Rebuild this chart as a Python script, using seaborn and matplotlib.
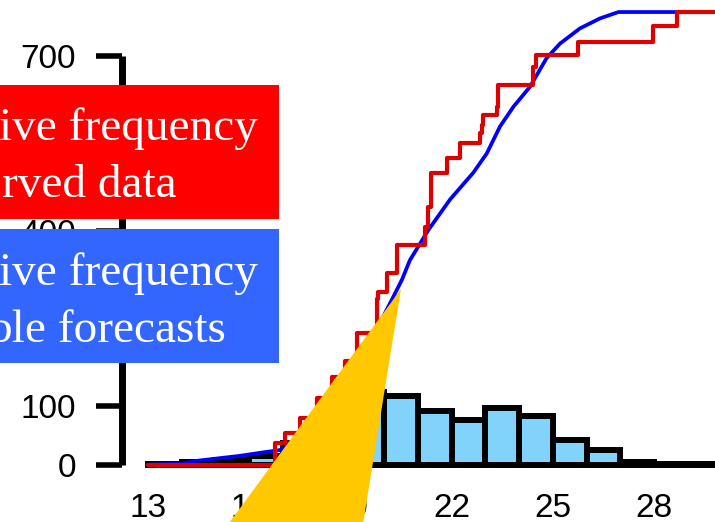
import numpy as np
import pandas as pd
import seaborn as sns
import matplotlib
matplotlib.use("Agg")
import matplotlib.pyplot as plt
from matplotlib.patches import Polygon, Rectangle

# Daily counts of ensemble forecasts, one bin per day [day, day + 1)
bin_days = list(range(13, 30))
bin_counts = [1, 4, 8, 15, 37, 62, 125, 118, 92, 77, 97, 84, 43, 26, 5, 2, 1]

# Cumulative frequency of ensemble forecasts
ens_day = [13.0, 14.0, 14.5, 15.7, 16.4, 16.9, 17.5, 18.0, 18.5, 19.0, 19.5, 20.0,
           20.17, 20.52, 20.76, 21.31, 21.95, 22.64, 23.04, 23.43, 23.83, 24.32,
           24.81, 25.21, 25.80, 26.39, 26.94, 29.9]
ens_cum = [0, 2, 7, 15, 21, 25, 42, 62, 92, 135, 195, 257,
           276, 316, 350, 402, 454, 500, 533, 579, 613, 647,
           696, 721, 747, 764, 775, 775]

# Cumulative frequency of observed data (value holds until the next day listed)
obs_day = [13.0, 16.76, 17.06, 17.5, 18.0, 18.45, 18.85, 19.19, 19.78, 19.82,
           20.07, 20.39, 21.2, 21.3, 21.4, 21.85, 22.25, 22.84, 22.89, 22.94,
           23.33, 23.38, 24.42, 24.49, 25.75, 27.97, 28.67, 29.9]
obs_cum = [0, 37, 54, 80, 115, 150, 178, 225, 283, 296,
           328, 376, 407, 442, 499, 525, 550, 568, 582, 599,
           613, 650, 681, 701, 724, 751, 775, 775]

y_ticks = [0, 100, 200, 300, 400, 500, 600, 700]
x_ticks = [13, 16, 19, 22, 25, 28]

obs_label = ["ive frequency", "rved data"]
ens_label = ["ive frequency", "ble forecasts"]

sns.set_style("ticks")
plt.rcParams["font.family"] = ["Liberation Sans", "DejaVu Sans"]

W, H = 715, 522
fig = plt.figure(figsize=(W / 100, H / 100), dpi=100)


def fx(px):
    return px / W


def fy(py):
    return 1 - py / H


ax_left, ax_bottom_px = 121.7, 485.0
ax = fig.add_axes([fx(ax_left), fy(ax_bottom_px), 1 - fx(ax_left), ax_bottom_px / H])

hist_df = pd.DataFrame({"day": [d + 0.5 for d in bin_days], "count": bin_counts})
sns.histplot(data=hist_df, x="day", weights="count", binwidth=1,
             binrange=(bin_days[0], bin_days[-1] + 1),
             color="#82D3FC", edgecolor="black", linewidth=4.3, alpha=1,
             ax=ax, zorder=2)

sns.lineplot(x=ens_day, y=ens_cum, color="#0000FF", linewidth=2.7,
             estimator=None, sort=False, ax=ax, zorder=3)
sns.lineplot(x=obs_day, y=obs_cum, color="#DD0000", linewidth=3.0,
             drawstyle="steps-post", estimator=None, sort=False, ax=ax, zorder=4)

ax.set_xlim(12.222, 29.801)
ax.set_ylim(-34.75, 795.6)
ax.set_xlabel("")
ax.set_ylabel("")
for side in ("top", "right", "bottom"):
    ax.spines[side].set_visible(False)
ax.spines["left"].set_bounds(0, 700)
ax.spines["left"].set_linewidth(5)
ax.spines["left"].set_color("black")
ax.spines["left"].set_capstyle("butt")

ax.set_yticks(y_ticks)
ax.set_xticks(x_ticks)
ax.set_xticklabels([str(t) for t in x_ticks])
ax.tick_params(axis="y", direction="out", length=19, width=4, pad=14,
               labelsize=24, color="black", labelcolor="black")
ax.tick_params(axis="x", length=0, pad=5.5, labelsize=24, labelcolor="black")
ax.grid(False)
ax.set_facecolor("white")

# Caption boxes
fig.add_artist(Rectangle((fx(0), fy(219.3)), fx(279.3), (219.3 - 85) / H,
                         transform=fig.transFigure, facecolor="#FF0000",
                         edgecolor="none", zorder=5))
fig.add_artist(Rectangle((fx(0), fy(363.3)), fx(279.3), (363.3 - 229) / H,
                         transform=fig.transFigure, facecolor="#3366FF",
                         edgecolor="none", zorder=5))

serif = ["Liberation Serif", "DejaVu Serif"]
for txt, xr, yb in [(obs_label[0], 258, 140), (obs_label[1], 176.7, 197),
                    (ens_label[0], 258, 285), (ens_label[1], 225.5, 341.7)]:
    fig.text(fx(xr), fy(yb), txt, color="white", fontsize=34, family=serif,
             ha="right", va="baseline", zorder=6)

# Pointer wedge
fig.add_artist(Polygon([(fx(401), fy(289)), (fx(224), fy(530)), (fx(362), fy(530))],
                       closed=True, transform=fig.transFigure,
                       facecolor="#FFC800", edgecolor="none", zorder=7))

fig.savefig("out.png", dpi=100)
